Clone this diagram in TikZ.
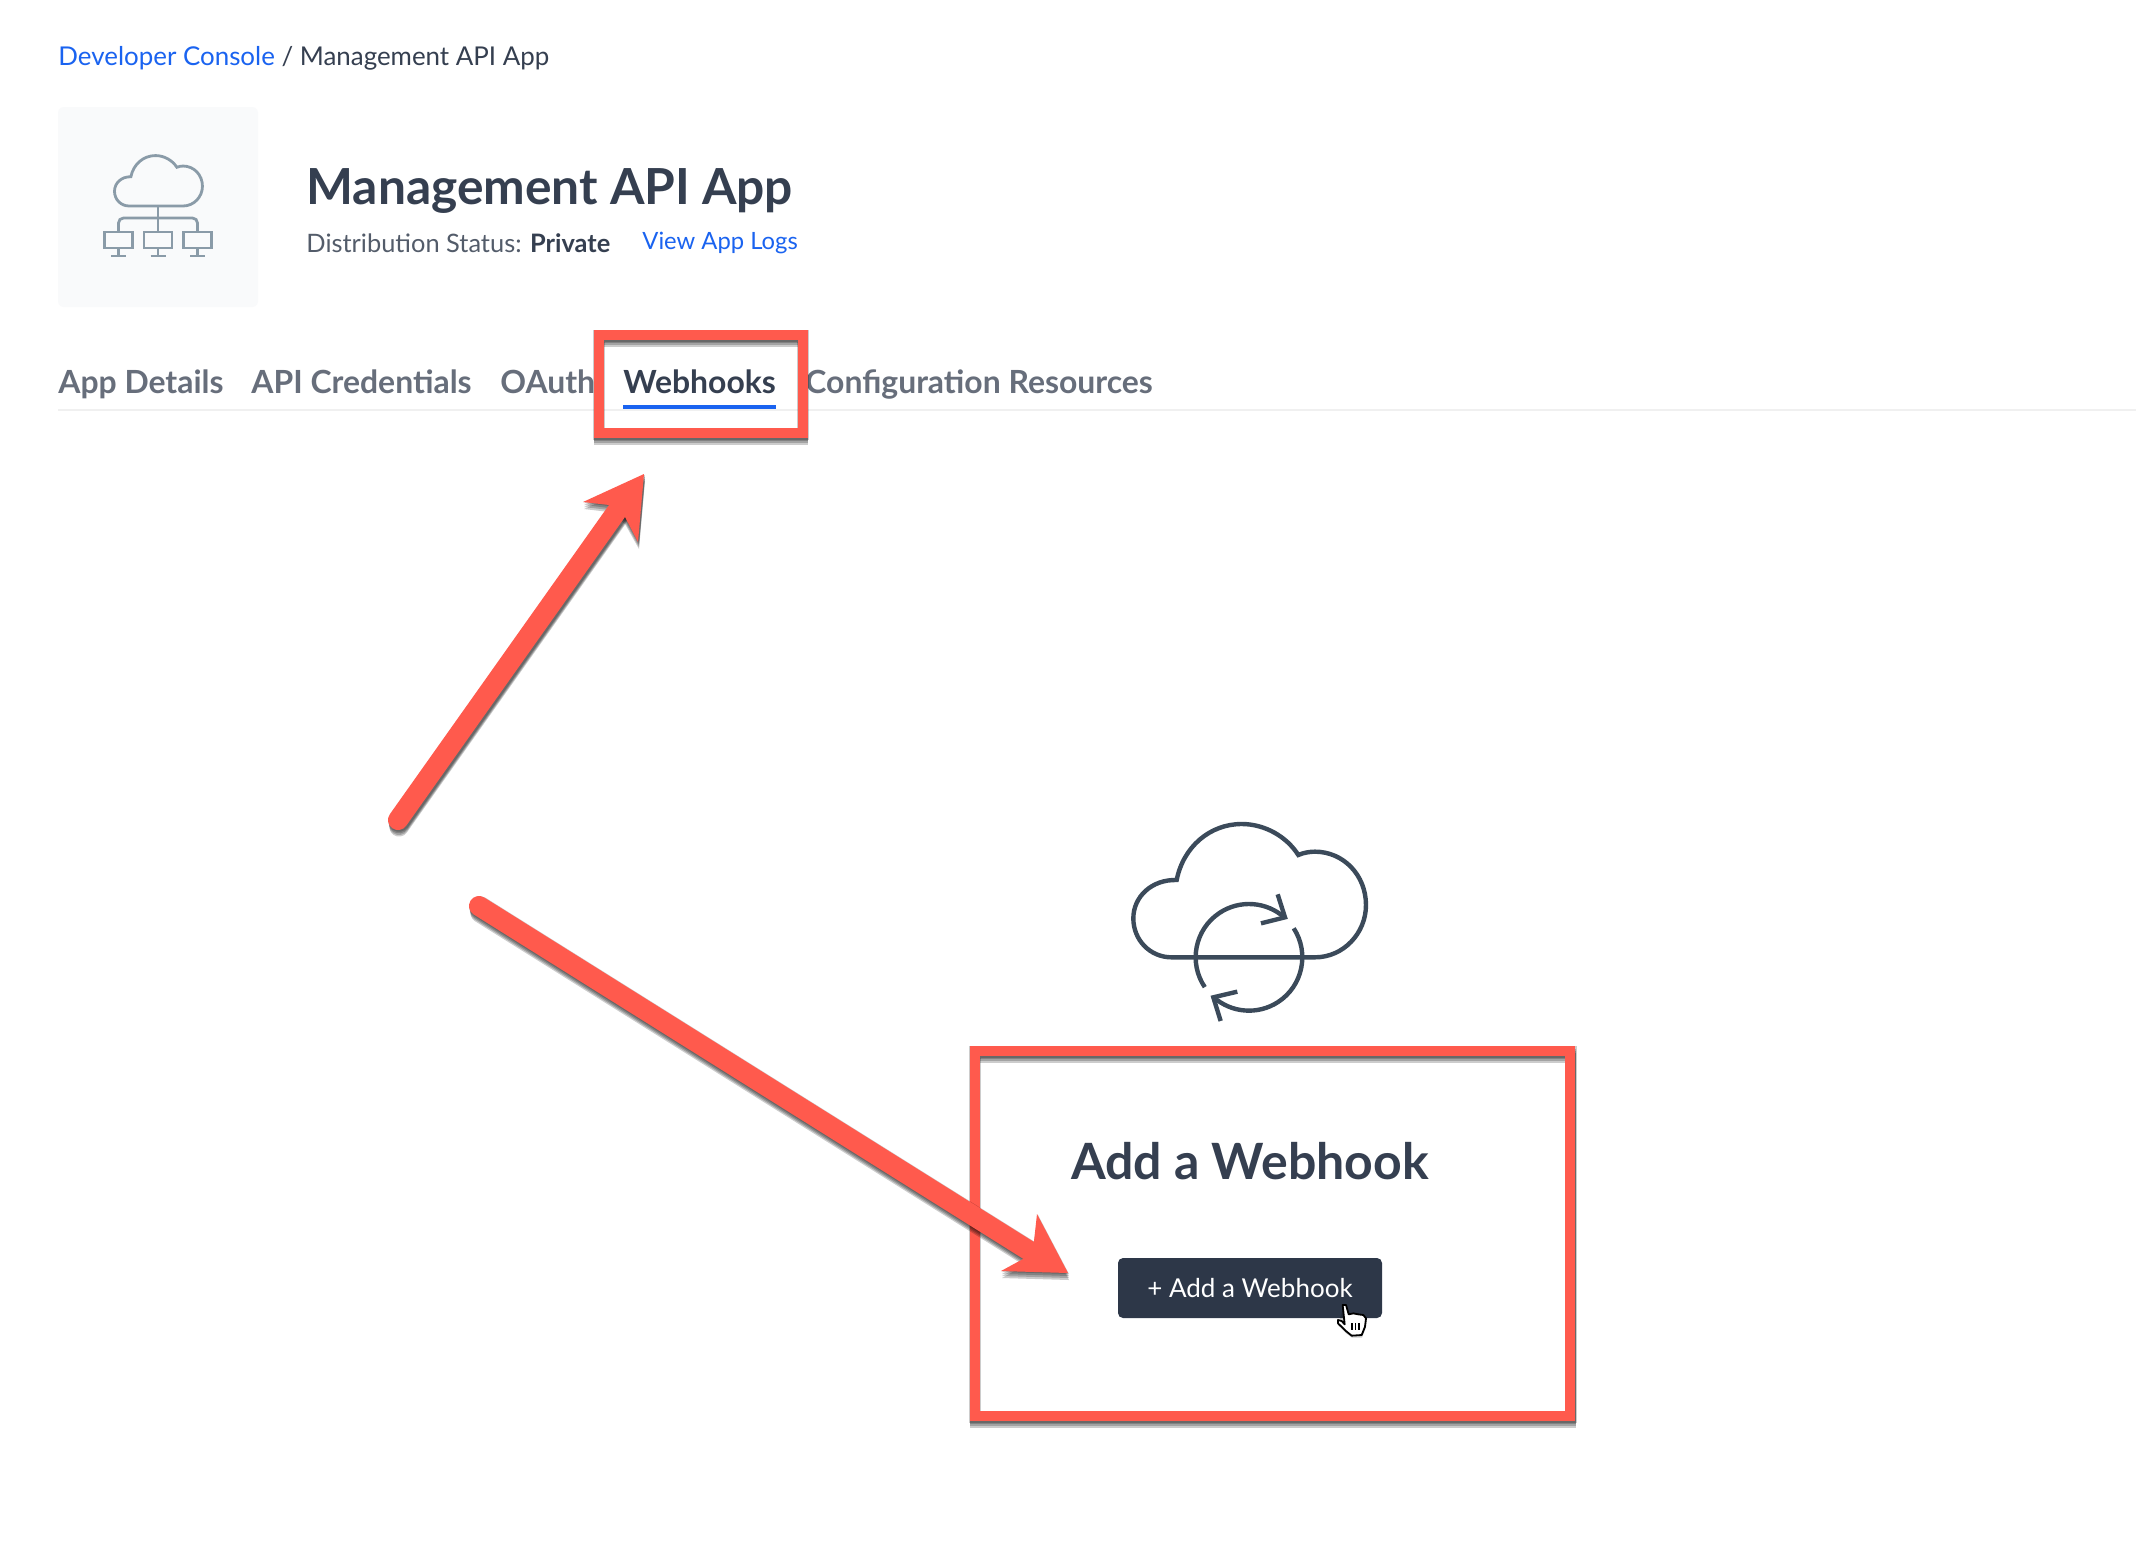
\documentclass[tikz,border=0pt]{standalone}
\usepackage{fontspec}
\setmainfont{Lato}
\definecolor{redmark}{HTML}{FF5A4D}
\definecolor{linkblue}{HTML}{1A63F0}
\definecolor{inkdark}{HTML}{353F50}
\definecolor{tabgray}{HTML}{676E7B}
\definecolor{iconpale}{HTML}{8A9BA8}
\definecolor{icondark}{HTML}{3B4A5A}
\definecolor{btndark}{HTML}{2D3748}
\newcommand{\pathcloud}{(215,472) .. controls (150,472) and (100,420) .. (100,355)
  .. controls (100,290) and (155,238) .. (230,240)
  .. controls (250,140) and (330,72) .. (425,72)
  .. controls (495,72) and (560,110) .. (595,165)
  .. controls (610,158) and (630,155) .. (645,155)
  .. controls (730,155) and (798,225) .. (798,315)
  .. controls (798,400) and (730,472) .. (645,472) -- cycle}
\tikzset{
  tabtext/.style={anchor=base west,inner sep=0pt,font=\fontsize{15.95}{20}\selectfont\bfseries,text=tabgray},
  frameline/.style={draw=redmark,line width=5pt},
  shaftline/.style={draw=redmark,line width=10pt,line cap=round},
  softshade/.style={black,opacity=0.2},
  paleline/.style={draw=iconpale,line width=1.4pt}
}
\begin{document}
\begin{tikzpicture}[x=0.5pt,y=-0.5pt]
  \useasboundingbox (0,0) rectangle (2136,1564);
  \fill[white] (0,0) rectangle (2136,1564);
  % header
  \node[anchor=base west,inner sep=0pt,font=\fontsize{12.95}{16}\selectfont,text=inkdark] (crumb) at (58,65)
    {\textcolor{linkblue}{Developer Console} / Management API App};
  \fill[rounded corners=3pt,color=iconpale!5!white] (58,107) rectangle (258,307);
  \node[anchor=base west,inner sep=0pt,font=\fontsize{24.85}{30}\selectfont\bfseries,text=inkdark] (title) at (306,204) {Management API App};
  \node[anchor=base west,inner sep=0pt,font=\fontsize{12.7}{16}\selectfont,text=inkdark!85] (status) at (306,252)
    {Distribution Status: \textbf{\textcolor{inkdark}{Private}}};
  \node[anchor=base west,inner sep=0pt,font=\fontsize{11.9}{16}\selectfont,text=linkblue] (logs) at (642,249) {View App Logs};
  % small cloud icon
  \begin{scope}[shift={(101.9,146.5)},scale=0.126,paleline]
    \draw \pathcloud;
  \end{scope}
  \draw[paleline] (158,206) -- (158,232);
  \draw[paleline,rounded corners=2.5pt] (118.5,232) -- (118.5,218) -- (197.5,218) -- (197.5,232);
  \foreach \cx in {118.5,158,197.5}{
    \draw[paleline] (\cx-14,232) rectangle (\cx+14,248);
    \draw[paleline] (\cx,248) -- (\cx,256) (\cx-7.5,256) -- (\cx+7.5,256);
  }
  % tabs
  \foreach \tabname/\x/\txt in {details/58/App Details,creds/251/API Credentials,oauth/500/OAuth,config/805/Configuration Resources}
    \node[tabtext] (\tabname) at (\x,393) {\txt};
  \node[tabtext,text=inkdark] (hooks) at (623,393) {Webhooks};
  \draw[color=black!6,line width=1pt] (58,410) -- (2136,410);
  \draw[linkblue,line width=2pt] (623,407) -- (776,407);
  % empty state
  \begin{scope}[shift={(1100,800)},scale=0.3333,draw=icondark,line width=2.2pt]
    \draw \pathcloud;
    \foreach \a/\b in {146/312,-33/132}
      \draw (447,472) ++(\a:160) arc (\a:\b:160);
    \draw (533,283) -- (555,352) -- (483,370);
    \draw (412,575) -- (340,592) -- (362,663);
  \end{scope}
  \node[anchor=base,inner sep=0pt,font=\fontsize{25}{30}\selectfont\bfseries,text=inkdark] (addtitle) at (1250,1179) {Add a Webhook};
  \node[fill=btndark,rounded corners=2.5pt,minimum width=132pt,minimum height=30pt,inner sep=0pt,text=white,font=\fontsize{13}{16}\selectfont] (addbtn) at (1250,1288) {+ Add a Webhook};
  % hand cursor
  \begin{scope}[shift={(1330,1295)},scale=0.3333]
    \fill[softshade] (40,36) -- (50,38) -- (56,66) -- (100,66) -- (110,76) -- (106,102) -- (96,128) -- (66,128) -- (50,116) -- (24,90) -- cycle;
    \draw[black,fill=white,line width=0.9pt,line join=round] (38,30) -- (48,30) -- (56,58) -- (70,55) -- (85,58) -- (100,60) -- (108,70) -- (105,95) -- (95,120) -- (65,122) -- (50,110) -- (24,85) -- (24,75) -- (35,78) -- (44,88) -- cycle;
    \foreach \fx in {66,76,87}
      \draw[black,line width=0.7pt] (\fx,85) -- (\fx,106);
  \end{scope}
  % frames
  \foreach \o/\w in {1/5.8,3/5.4,5/5,7/4.6}{
    \draw[softshade,line width=\w pt] (599,335+\o) rectangle (803,433+\o);
    \draw[softshade,line width=\w pt] (975,1051+\o) rectangle (1571,1416+\o);
  }
  \draw[frameline] (599,335) rectangle (803,433);
  \draw[frameline] (975,1051) rectangle (1570,1416);
  % arrows
  \coordinate (upfoot) at (398,820);
  \coordinate (upneck) at (617,511);
  \coordinate (downfoot) at (479,906);
  \coordinate (downneck) at (1028,1250);
  \foreach \o/\w in {1/10.8,3/10.4,5/10,7/9.6}{
    \draw[softshade,line width=\w pt,line cap=round] ([shift={(1,\o)}]upfoot) -- ([shift={(1,\o)}]upneck);
    \fill[softshade] (645,474+\o) -- (584,502+\o) -- (609,505+\o) -- (625,517+\o) -- (639,542+\o) -- cycle;
    \draw[softshade,line width=\w pt,line cap=round] ([shift={(1,\o)}]downfoot) -- ([shift={(1,\o)}]downneck);
    \fill[softshade] (1069,1273+\o) -- (1038,1214+\o) -- (1034,1241+\o) -- (1023,1259+\o) -- (1002,1271+\o) -- cycle;
  }
  \draw[shaftline] (upfoot) -- (upneck);
  \fill[redmark] (644,474) -- (583,502) -- (609,505) -- (625,517) -- (638,542) -- cycle;
  \draw[shaftline] (downfoot) -- (downneck);
  \fill[redmark] (1068,1273) -- (1037,1214) -- (1034,1241) -- (1023,1259) -- (1001,1271) -- cycle;
\end{tikzpicture}
\end{document}
